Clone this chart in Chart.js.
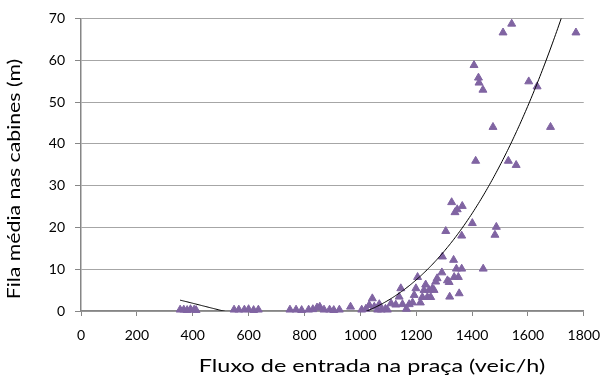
<!DOCTYPE html>
<html>
<head>
<meta charset="utf-8">
<script src="https://cdn.jsdelivr.net/npm/chart.js@4/dist/chart.umd.min.js"></script>
<style>
  html, body { margin: 0; padding: 0; background: #fff; }
  #wrap { width: 611px; height: 378px; }
</style>
</head>
<body>
<div id="wrap"><canvas id="myChart" width="611" height="378"></canvas></div>
<script>
// flow into the toll plaza (veic/h)
const fluxo = [
  355, 368, 380, 392, 405, 412,
  548, 565, 585, 600, 618, 635,
  748, 770, 790, 815, 830, 845, 855, 870, 890, 905, 925, 965,
  1005, 1020, 1032, 1043, 1050, 1062, 1075, 1090, 1097,
  1068, 1110, 1127, 1139, 1145, 1151, 1165, 1175, 1187, 1193, 1199, 1205,
  1215, 1222, 1228, 1234, 1240, 1246, 1252, 1258, 1264, 1270, 1275,
  1292, 1294, 1306, 1312, 1318, 1320, 1327, 1334, 1336, 1339, 1344, 1347,
  1351, 1354, 1363, 1363, 1365, 1401, 1407, 1413, 1423, 1425, 1439, 1440,
  1475, 1482, 1487, 1511, 1530, 1542, 1558, 1603, 1633, 1681, 1772
];
// mean queue at the booths (m)
const fila = [
  0.3, 0.3, 0.2, 0.4, 0.3, 0.2,
  0.3, 0.3, 0.3, 0.4, 0.2, 0.3,
  0.3, 0.3, 0.2, 0.3, 0.4, 0.8, 1.0, 0.3, 0.3, 0.2, 0.3, 1.0,
  0.3, 0.5, 1.4, 3.0, 1.0, 0.3, 0.3, 0.5, 0.3,
  1.6, 1.8, 1.5, 3.4, 5.4, 1.6, 0.5, 1.6, 2.0, 3.8, 5.4, 8.1,
  2.0, 3.3, 5.0, 6.3, 3.3, 5.0, 3.3, 5.4, 5.0, 7.0, 7.8,
  9.2, 13.0, 19.1, 7.3, 6.9, 3.4, 26.0, 12.2, 8.1, 23.6, 10.1, 24.3,
  8.1, 4.2, 10.1, 18.0, 25.1, 21.0, 58.8, 35.9, 55.8, 54.6, 52.9, 10.1,
  44.0, 18.2, 20.1, 66.6, 35.9, 68.7, 34.9, 54.9, 53.7, 44.0, 66.6
];
const xTicks = [0, 200, 400, 600, 800, 1000, 1200, 1400, 1600, 1800];
const yTicks = [0, 10, 20, 30, 40, 50, 60, 70];
const xTitle = "Fluxo de entrada na praça (veic/h)";
const yTitle = "Fila média nas cabines (m)";

// cubic least-squares trendline (like the spreadsheet's polynomial trend)
function fitCubic(xs, ys) {
  const n = 4, A = [], b = [];
  for (let i = 0; i < n; i++) { A.push(new Array(n).fill(0)); b.push(0); }
  for (let k = 0; k < xs.length; k++) {
    const t = xs[k] / 1000;
    const p = [1, t, t * t, t * t * t];
    for (let i = 0; i < n; i++) {
      b[i] += p[i] * ys[k];
      for (let j = 0; j < n; j++) A[i][j] += p[i] * p[j];
    }
  }
  for (let i = 0; i < n; i++) {
    let m = i;
    for (let r = i + 1; r < n; r++) if (Math.abs(A[r][i]) > Math.abs(A[m][i])) m = r;
    [A[i], A[m]] = [A[m], A[i]]; [b[i], b[m]] = [b[m], b[i]];
    for (let r = i + 1; r < n; r++) {
      const f = A[r][i] / A[i][i];
      for (let c = i; c < n; c++) A[r][c] -= f * A[i][c];
      b[r] -= f * b[i];
    }
  }
  const c = new Array(n).fill(0);
  for (let i = n - 1; i >= 0; i--) {
    let s = b[i];
    for (let j = i + 1; j < n; j++) s -= A[i][j] * c[j];
    c[i] = s / A[i][i];
  }
  return c;
}
const coef = fitCubic(fluxo, fila);
const trend = [];
const xMin = Math.min(...fluxo), xMax = Math.max(...fluxo);
for (let x = xMin; x <= xMax; x += 4) {
  const t = x / 1000;
  trend.push({ x: x, y: coef[0] + coef[1] * t + coef[2] * t * t + coef[3] * t * t * t });
}

const points = fluxo.map((x, i) => ({ x: x, y: fila[i] }));
const font = "Lato, 'Open Sans', sans-serif";

// axis titles sit a little off-centre (and wide) in the original, so draw them here
const axisTitles = {
  id: "axisTitles",
  afterDraw(chart) {
    const ctx = chart.ctx;
    ctx.save();
    ctx.fillStyle = "#000";
    ctx.font = "18px " + font;
    ctx.textAlign = "center";
    ctx.textBaseline = "middle";
    ctx.save();
    ctx.translate(372, 366);
    ctx.scale(1.3, 1);
    ctx.fillText(xTitle, 0, 0);
    ctx.restore();
    ctx.translate(14, 179);
    ctx.rotate(-Math.PI / 2);
    ctx.scale(1.18, 1);
    ctx.fillText(yTitle, 0, 0);
    ctx.restore();
  },
};

const data = {
  datasets: [
    {
      type: "scatter",
      data: points,
      pointStyle: "triangle",
      pointRadius: 4.6,
      backgroundColor: "#8064A2",
      borderColor: "#8064A2",
      borderWidth: 1,
      clip: false,
      order: 2,
    },
    {
      type: "line",
      data: trend,
      borderColor: "#000",
      borderWidth: 1,
      pointRadius: 0,
      tension: 0,
      fill: false,
      order: 1,
    },
  ],
};

const config = {
  type: "scatter",
  data,
  options: {
    responsive: false,
    animation: false,
    events: [],
    layout: { padding: { top: 15, right: 26, left: 0, bottom: 0 } },
    plugins: { legend: { display: false }, tooltip: { enabled: false } },
    scales: {
      x: {
        type: "linear",
        min: 0,
        max: 1800,
        afterBuildTicks: (s) => { s.ticks = xTicks.map((v) => ({ value: v })); },
        afterFit: (s) => { s.height = 67; },
        grid: { drawOnChartArea: false, drawTicks: true, tickLength: 5, tickColor: "#868686" },
        border: { color: "#868686", width: 1.5 },
        ticks: {
          color: "#000",
          font: { family: font, size: 14 },
          padding: 11,
          maxRotation: 0,
          callback: (v) => String(v),
        },
      },
      y: {
        min: 0,
        max: 70,
        afterBuildTicks: (s) => { s.ticks = yTicks.map((v) => ({ value: v })); },
        afterFit: (s) => { s.width = 81; },
        grid: { color: "#a6a6a6", lineWidth: 1, drawTicks: true, tickLength: 6, tickColor: "#868686" },
        border: { color: "#868686", width: 1.5 },
        ticks: { color: "#000", font: { family: font, size: 14 }, padding: 10, callback: (v) => String(v) },
      },
    },
  },
  plugins: [axisTitles],
};

const myChart = new Chart(document.getElementById("myChart"), config);
</script>
</body>
</html>
